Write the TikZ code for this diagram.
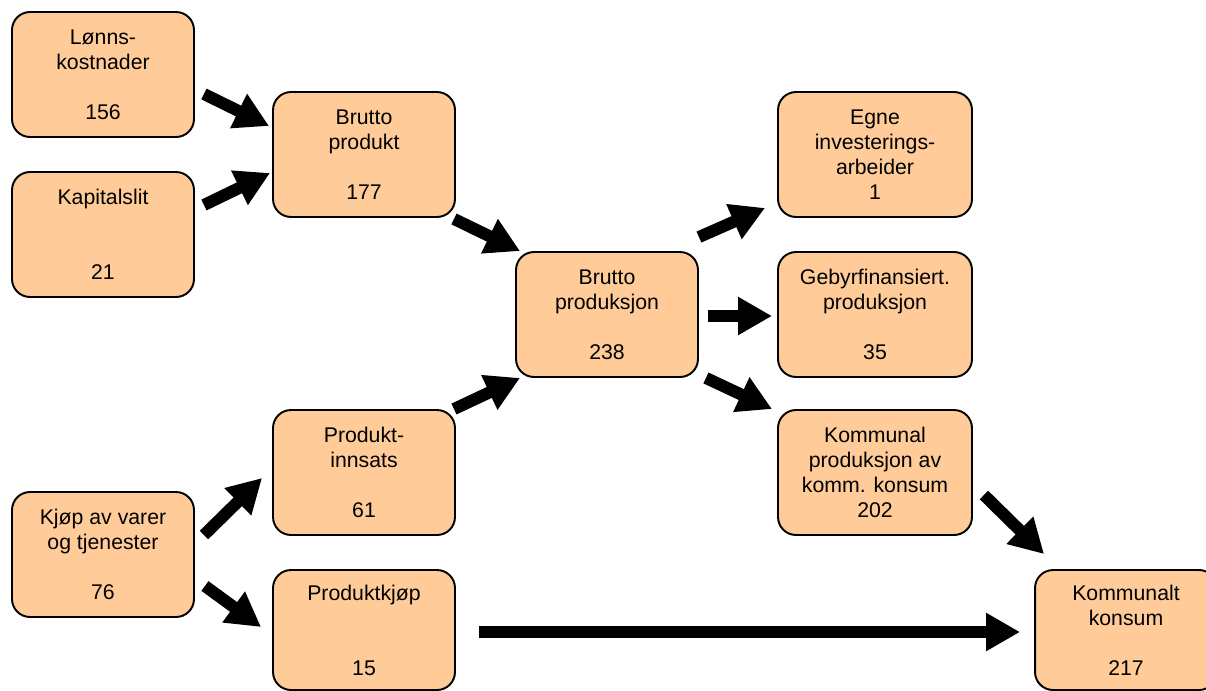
\documentclass[tikz,border=0pt]{standalone}
\usepackage{fontspec}
\setmainfont{Liberation Sans}
\usetikzlibrary{arrows.meta}
\definecolor{boks}{HTML}{FFCC99}
\tikzset{
  post/.style={rectangle,rounded corners=0.36cm,draw=black,line width=1.1pt,
    fill=boks,minimum width=3.64cm,minimum height=2.5cm,inner sep=0pt,
    align=center,font=\fontsize{12.1}{14.2}\selectfont},
  bredpost/.style={post,minimum width=3.88cm},
  pil/.style={line width=0.24cm,-{Triangle[length=0.68cm,width=0.72cm]}}
}
\begin{document}
\begin{tikzpicture}[x=0.02cm,y=-0.02cm]
\useasboundingbox (0,0) rectangle (1206,690);
% Venstre kolonne
\node[post] (lonn) at (103,74.5) {Lønns-\\kostnader\\~\\156};
\node[post] (kap) at (103,234.5) {Kapitalslit\\~\\~\\21};
\node[post] (kjop) at (103,554.5) {Kjøp av varer\\og tjenester\\~\\76};
% Andre kolonne
\node[post] (bp) at (364,154.5) {Brutto\\produkt\\~\\177};
\node[post] (pi) at (364,472.5) {Produkt-\\innsats\\~\\61};
\node[post,minimum height=2.4cm] (pk) at (364,630) {Produktkjøp\\~\\~\\15};
% Midten
\node[post] (bps) at (607,314.5) {Brutto\\produksjon\\~\\238};
% Hoyre kolonne
\node[bredpost] (egne) at (875,154.5) {Egne\\investerings-\\arbeider\\1};
\node[bredpost] (geb) at (875,314.5) {Gebyrfinansiert.\\produksjon\\~\\35};
\node[bredpost] (komm) at (875,472.5) {Kommunal\\produksjon av\\komm. konsum\\202};
\node[post,minimum height=2.4cm] (kk) at (1126,630) {Kommunalt\\konsum\\~\\217};
% Piler
\draw[pil] ([shift={(9,19.5)}]lonn.east) -- ([shift={(-3,-28.5)}]bp.west);
\draw[pil] ([shift={(9,-29.5)}]kap.east) -- ([shift={(-2,18.5)}]bp.west);
\draw[pil] ([shift={(-2,1)}]bp.south east) -- ([shift={(5,0)}]bps.north west);
\draw[pil] ([shift={(-2,0)}]pi.north east) -- ([shift={(5,0)}]bps.south west);
\draw[pil] ([shift={(0,-14)}]bps.north east) -- ([shift={(-12,-10)}]egne.south west);
\draw[pil] ([shift={(9,1.5)}]bps.east) -- ([shift={(-5,1.5)}]geb.west);
\draw[pil] ([shift={(7,0)}]bps.south east) -- ([shift={(-5,0)}]komm.north west);
\draw[pil] ([shift={(11,22.5)}]komm.east) -- ([shift={(10,-15)}]kk.north west);
\draw[pil] ([shift={(9,-19.5)}]kjop.east) -- ([shift={(-10,5.5)}]pi.west);
\draw[pil] ([shift={(10,31.5)}]kjop.east) -- ([shift={(-11,-3)}]pk.west);
\draw[pil] ([shift={(23,2)}]pk.east) -- ([shift={(-14,2)}]kk.west);
\end{tikzpicture}
\end{document}
